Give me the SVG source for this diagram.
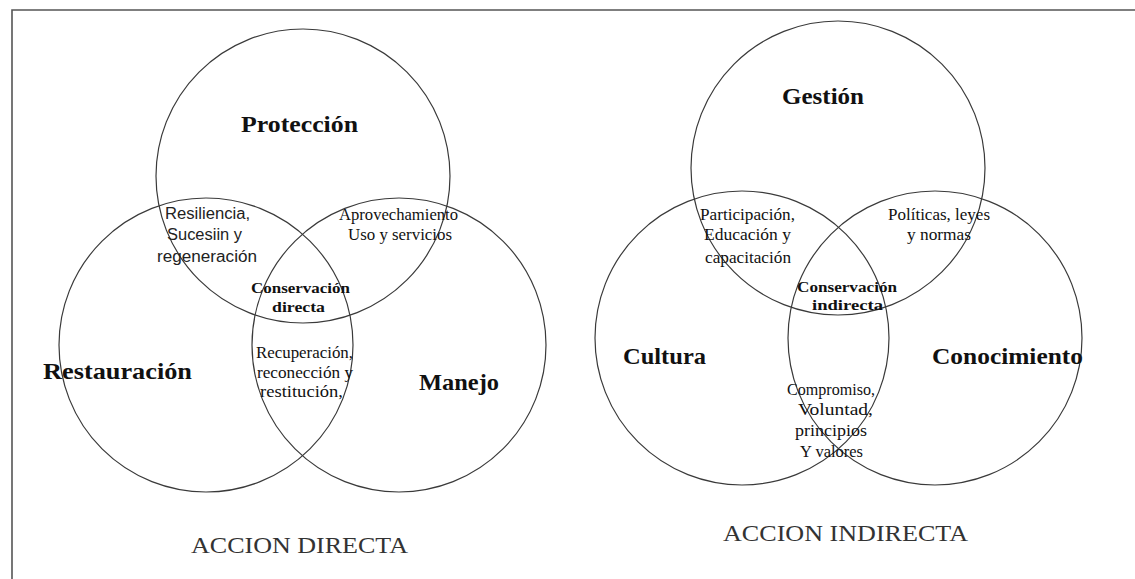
<svg xmlns="http://www.w3.org/2000/svg" width="1135" height="579" viewBox="0 0 1135 579">
<style>
.c{fill:none;stroke:#3a3a3a;stroke-width:1.2}
.t{font-family:"Liberation Serif",serif;fill:#111}
.big{font-size:23px;font-weight:bold}
.sm{font-size:17px}
.sb{font-size:15px;font-weight:bold}
.ss{font-family:"Liberation Sans",sans-serif;font-size:16px;fill:#222}
.cap{font-family:"Liberation Serif",serif;font-size:23px;fill:#333}
</style>
<rect width="1135" height="579" fill="#fff"/>
<path d="M12 579 V10 H1135" fill="none" stroke="#555" stroke-width="1.6"/>
<g id="directa">
<g id="proteccion"><circle class="c" cx="303" cy="176" r="147"/><text class="t big" x="241" y="132" textLength="117" lengthAdjust="spacingAndGlyphs">Protección</text></g>
<g id="restauracion"><circle class="c" cx="206" cy="345" r="147"/><text class="t big" x="43" y="379" textLength="149" lengthAdjust="spacingAndGlyphs">Restauración</text></g>
<g id="manejo"><circle class="c" cx="399" cy="345" r="147"/><text class="t big" x="419" y="390" textLength="80" lengthAdjust="spacingAndGlyphs">Manejo</text></g>
<g id="resiliencia">
<text class="ss" x="165" y="219" textLength="85" lengthAdjust="spacingAndGlyphs">Resiliencia,</text>
<text class="ss" x="167" y="240" textLength="75" lengthAdjust="spacingAndGlyphs">Sucesiin y</text>
<text class="ss" x="157" y="262" textLength="100" lengthAdjust="spacingAndGlyphs">regeneración</text>
</g>
<g id="aprovechamiento">
<text class="t sm" x="339" y="220" textLength="119" lengthAdjust="spacingAndGlyphs">Aprovechamiento</text>
<text class="t sm" x="348" y="240" textLength="104" lengthAdjust="spacingAndGlyphs">Uso y servicios</text>
</g>
<g id="conservacion-directa">
<text class="t sb" x="251" y="293" textLength="99" lengthAdjust="spacingAndGlyphs">Conservación</text>
<text class="t sb" x="272" y="312" textLength="53" lengthAdjust="spacingAndGlyphs">directa</text>
</g>
<g id="recuperacion">
<text class="t sm" x="256" y="358" textLength="97" lengthAdjust="spacingAndGlyphs">Recuperación,</text>
<text class="t sm" x="257" y="378" textLength="96" lengthAdjust="spacingAndGlyphs">reconección y</text>
<text class="t sm" x="260" y="397" textLength="83" lengthAdjust="spacingAndGlyphs">restitución,</text>
</g>
<text class="cap" x="191" y="553" textLength="217" lengthAdjust="spacingAndGlyphs">ACCION DIRECTA</text>
</g>
<g id="indirecta">
<g id="gestion"><circle class="c" cx="838" cy="168" r="147"/><text class="t big" x="782" y="104" textLength="82" lengthAdjust="spacingAndGlyphs">Gestión</text></g>
<g id="cultura"><circle class="c" cx="742" cy="338" r="147"/><text class="t big" x="623" y="364" textLength="83" lengthAdjust="spacingAndGlyphs">Cultura</text></g>
<g id="conocimiento"><circle class="c" cx="935" cy="338" r="147"/><text class="t big" x="932" y="364" textLength="151" lengthAdjust="spacingAndGlyphs">Conocimiento</text></g>
<g id="participacion">
<text class="t sm" x="700" y="220" textLength="95" lengthAdjust="spacingAndGlyphs">Participación,</text>
<text class="t sm" x="704" y="240" textLength="87" lengthAdjust="spacingAndGlyphs">Educación y</text>
<text class="t sm" x="705" y="263" textLength="86" lengthAdjust="spacingAndGlyphs">capacitación</text>
</g>
<g id="politicas">
<text class="t sm" x="888" y="220" textLength="102" lengthAdjust="spacingAndGlyphs">Políticas, leyes</text>
<text class="t sm" x="907" y="240" textLength="64" lengthAdjust="spacingAndGlyphs">y normas</text>
</g>
<g id="conservacion-indirecta">
<text class="t sb" x="797" y="292" textLength="100" lengthAdjust="spacingAndGlyphs">Conservación</text>
<text class="t sb" x="812" y="310" textLength="71" lengthAdjust="spacingAndGlyphs">indirecta</text>
</g>
<g id="compromiso">
<text class="t sm" x="787" y="395" textLength="88" lengthAdjust="spacingAndGlyphs">Compromiso,</text>
<text class="t sm" x="798" y="415" textLength="75" lengthAdjust="spacingAndGlyphs">Voluntad,</text>
<text class="t sm" x="795" y="436" textLength="72" lengthAdjust="spacingAndGlyphs">principios</text>
<text class="t sm" x="800" y="457" textLength="63" lengthAdjust="spacingAndGlyphs">Y valores</text>
</g>
<text class="cap" x="723" y="541" textLength="245" lengthAdjust="spacingAndGlyphs">ACCION INDIRECTA</text>
</g>
</svg>
